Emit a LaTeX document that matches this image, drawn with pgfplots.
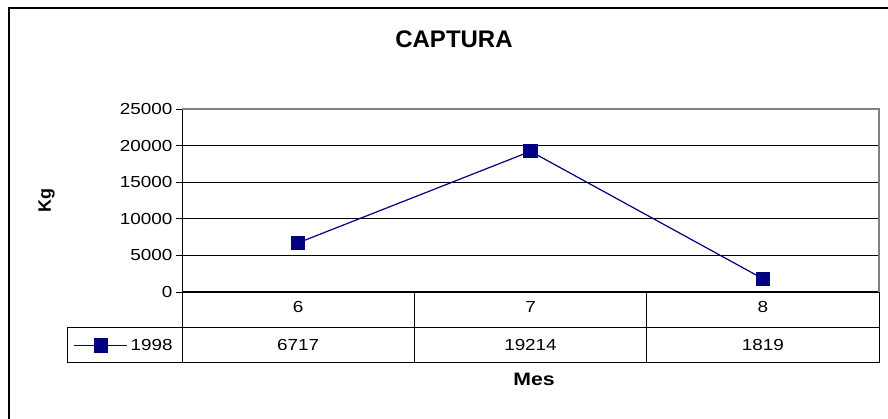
\documentclass[border=0pt]{standalone}
\usepackage{pgfplots}
\pgfplotsset{compat=1.18}
\usepackage{fontspec}
\setmainfont{Liberation Sans}
\newfontfamily\widefont[FakeStretch=1.18]{Liberation Sans}
\definecolor{navy}{RGB}{0,0,128}
\definecolor{bordergray}{RGB}{128,128,128}
\begin{document}
\begin{tikzpicture}[x=1pt,y=1pt]
\useasboundingbox (0,0) rectangle (888,419);
\fill[white] (0,0) rectangle (888,419);
\draw[black, line width=1.2pt] (9,0) -- (9,411) -- (888,411);
\begin{axis}[
  at={(182pt,127pt)}, anchor=south west,
  width=697pt, height=183pt, scale only axis,
  xmin=-0.5, xmax=2.5, ymin=0, ymax=25000,
  xtick={0,1,2}, xticklabels={6,7,8},
  ytick={0,5000,10000,15000,20000,25000},
  yticklabels={0,5000,10000,15000,20000,25000},
  scaled y ticks=false,
  axis x line*=bottom, axis y line*=left,
  axis line style={-, black, line width=1pt},
  ymajorgrids, grid style={black, line width=0.9pt},
  tick align=outside, major tick length=6pt,
  ytick style={black, line width=0.9pt},
  xtick style={draw=none},
  ticklabel style={font=\widefont\fontsize{16}{19}\selectfont},
  clip=false,
  legend style={at={(-0.0825,-0.2923)}, anchor=center, draw=none, fill=none,
    font=\widefont\fontsize{16}{19}\selectfont, inner sep=0pt,
    nodes={inner sep=2.5pt}},
  legend image code/.code={\draw[mark repeat=2,mark phase=2,#1] plot coordinates {(0pt,0pt)(26.5pt,0pt)(53pt,0pt)};},
]
\addplot[navy, line width=1.2pt, mark=square*, mark size=6.5pt, mark options={solid, fill=navy}]
  coordinates {(0,6717) (1,19214) (2,1819)};
\addlegendentry{1998}
\node[font=\widefont\fontsize{16}{19}\selectfont, yshift=-53pt] at (axis cs:0,0) {6717};
\node[font=\widefont\fontsize{16}{19}\selectfont, yshift=-53pt] at (axis cs:1,0) {19214};
\node[font=\widefont\fontsize{16}{19}\selectfont, yshift=-53pt] at (axis cs:2,0) {1819};
\end{axis}
% plot area border (top/right)
\draw[bordergray, line width=1.5pt] (182,310) -- (879,310) -- (879,127);
% data table grid
\draw[black, line width=1pt] (67,91) -- (879,91);
\draw[black, line width=1pt] (67,56) -- (879,56);
\draw[black, line width=1pt] (67,56) -- (67,91);
\draw[black, line width=1pt] (182,56) -- (182,127);
\draw[black, line width=1pt] (414.3,56) -- (414.3,127);
\draw[black, line width=1pt] (646.7,56) -- (646.7,127);
\draw[black, line width=1pt] (879,56) -- (879,127);
% titles
\node[font=\bfseries\fontsize{24}{28}\selectfont] at (454,380) {CAPTURA};
\node[rotate=90, font=\bfseries\fontsize{18}{21}\selectfont] at (46.5,218) {Kg};
\node[font=\widefont\bfseries\fontsize{18}{21}\selectfont] at (534,39.5) {Mes};
\end{tikzpicture}
\end{document}
